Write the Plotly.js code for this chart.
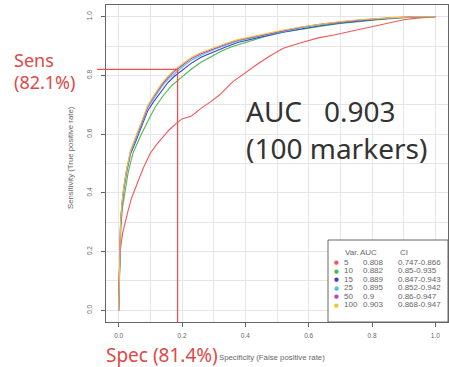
<!DOCTYPE html>
<html><head><meta charset="utf-8">
<script src="https://cdn.plot.ly/plotly-3.0.1.min.js"></script>
<style>body{margin:0;padding:0;background:#fff}#c{width:449px;height:367px}</style>
</head><body><div id="c"></div>
<script>
// ---- data ----
const varNames = ["5", "10", "15", "25", "50", "100"];
const aucValues = ["0.808", "0.882", "0.889", "0.895", "0.9", "0.903"];
const ciValues = ["0.747-0.866", "0.85-0.935", "0.847-0.943", "0.852-0.942", "0.86-0.947", "0.868-0.947"];
const seriesColors = ["#f25858", "#4db84d", "#3e3ec8", "#3fc6e6", "#c23ec2", "#f2c23a"];

const fpr5 = [0, 0, 0.003, 0.006, 0.012, 0.02, 0.03, 0.04, 0.05, 0.065, 0.08, 0.1, 0.12, 0.14, 0.16, 0.18, 0.2, 0.23, 0.26, 0.29, 0.32, 0.36, 0.40, 0.44, 0.48, 0.52, 0.57, 0.63, 0.68, 0.73, 0.78, 0.82, 0.86, 0.9, 0.95, 1.0];
const tpr5 = [0, 0.08, 0.16, 0.21, 0.26, 0.30, 0.34, 0.38, 0.41, 0.45, 0.49, 0.535, 0.565, 0.59, 0.615, 0.635, 0.652, 0.662, 0.688, 0.71, 0.735, 0.778, 0.81, 0.84, 0.868, 0.893, 0.91, 0.928, 0.938, 0.95, 0.96, 0.972, 0.98, 0.99, 0.996, 1.0];

const fpr10 = [0, 0.002, 0.004, 0.007, 0.012, 0.02, 0.03, 0.045, 0.066, 0.09, 0.114, 0.14, 0.167, 0.2, 0.23, 0.26, 0.294, 0.325, 0.357, 0.4, 0.46, 0.52, 0.58, 0.64, 0.7, 0.76, 0.82, 0.88, 0.94, 1.0];
const tpr10 = [0, 0.08, 0.18, 0.28, 0.35, 0.41, 0.47, 0.535, 0.587, 0.64, 0.69, 0.73, 0.765, 0.795, 0.822, 0.845, 0.866, 0.883, 0.898, 0.912, 0.932, 0.947, 0.958, 0.968, 0.977, 0.984, 0.99, 0.995, 0.999, 1.0];

const fprTop = [0, 0.002, 0.004, 0.006, 0.01, 0.016, 0.025, 0.038, 0.05, 0.07, 0.092, 0.11, 0.136, 0.155, 0.177, 0.2, 0.23, 0.26, 0.303, 0.34, 0.376, 0.42, 0.46, 0.52, 0.58, 0.64, 0.7, 0.76, 0.82, 0.88, 0.94, 1.0];
const tpr15 = [0, 0.09, 0.19, 0.29, 0.35, 0.41, 0.47, 0.535, 0.565, 0.62, 0.68, 0.71, 0.75, 0.775, 0.798, 0.818, 0.842, 0.862, 0.882, 0.898, 0.912, 0.924, 0.934, 0.948, 0.96, 0.97, 0.979, 0.986, 0.992, 0.997, 1.0, 1.0];
const tpr25 = [0, 0.1, 0.2, 0.3, 0.355, 0.415, 0.475, 0.54, 0.572, 0.628, 0.69, 0.72, 0.762, 0.786, 0.808, 0.828, 0.852, 0.869, 0.889, 0.904, 0.917, 0.928, 0.937, 0.951, 0.963, 0.973, 0.981, 0.988, 0.993, 0.997, 1.0, 1.0];
const tpr50 = [0, 0.1, 0.2, 0.3, 0.358, 0.418, 0.478, 0.543, 0.577, 0.632, 0.694, 0.726, 0.768, 0.792, 0.815, 0.834, 0.858, 0.874, 0.893, 0.907, 0.92, 0.93, 0.939, 0.953, 0.965, 0.975, 0.983, 0.989, 0.994, 0.998, 1.0, 1.0];
const tpr100 = [0, 0.1, 0.2, 0.3, 0.36, 0.42, 0.48, 0.546, 0.58, 0.635, 0.698, 0.73, 0.773, 0.797, 0.82, 0.838, 0.862, 0.878, 0.896, 0.91, 0.922, 0.932, 0.94, 0.955, 0.966, 0.976, 0.984, 0.99, 0.995, 0.998, 1.0, 1.0];

const cutSpec = 0.186;   // 1 - 0.814
const cutSens = 0.821;
const tickVals = [0, 0.2, 0.4, 0.6, 0.8, 1.0];
const tickText = ["0.0", "0.2", "0.4", "0.6", "0.8", "1.0"];

// ---- layout helpers (pixel -> paper) ----
const L = 106, R = 1, T = 5, B = 45, W = 449, H = 367;
const pw = W - L - R, ph = H - T - B;
const px = v => (v - L) / pw;
const py = v => (H - B - v) / ph;

const xs = [fpr5, fpr10, fprTop, fprTop, fprTop, fprTop];
const ys = [tpr5, tpr10, tpr15, tpr25, tpr50, tpr100];
const traces = ys.map((y, i) => ({
  x: xs[i], y: y, type: "scatter", mode: "lines", name: varNames[i],
  line: {color: seriesColors[i], width: 1.1}, hoverinfo: "skip"
}));

const tf = {family: "Liberation Sans, Arial, sans-serif", size: 6.5, color: "#666"};
const lf = {family: "Liberation Sans, Arial, sans-serif", size: 8, color: "#666"};
const af = {family: "Liberation Sans, Arial, sans-serif", size: 7.8, color: "#666"};
const annotations = [];
const ann = (x, y, text, font, xa, extra) => annotations.push(Object.assign({xref: "paper", yref: "paper", x: px(x), y: py(y), xanchor: xa || "left", yanchor: "middle", showarrow: false, text: text, font: font}, extra || {}));
// Legend text
const rowY = [262, 270.5, 279, 287.5, 296, 304.5];
ann(343, 252, "Var.", lf);
ann(358, 252, "AUC", lf);
ann(398, 252, "CI", lf);
varNames.forEach((v, i) => {
  ann(336, rowY[i], "●", {family: "DejaVu Sans", size: 5.5, color: seriesColors[i]}, "center");
  ann(342, rowY[i], v, lf);
  ann(361, rowY[i], aucValues[i], lf);
  ann(396, rowY[i], ciValues[i], lf);
});
// axis titles
ann(272, 357, "Specificity (False positive rate)", af, "center");
ann(70, 158, "Sensitivity (True positive rate)", af, "center", {textangle: -90});
// big annotations
const big = "Noto Sans, Open Sans, sans-serif";
const red = {family: big, size: 18, color: "#e04848"};
ann(12, 60, "Sens", red);
ann(12, 81.5, "(82.1%)", red);
ann(104, 354.5, "Spec (81.4%)", {family: big, size: 19, color: "#e04848"});
const blk = {family: big, size: 28, color: "#333"};
ann(244, 111, "AUC   0.903", blk);
ann(244, 147.5, "(100 markers)", blk);

const shapes = [
  {type: "line", xref: "paper", yref: "y", x0: px(97), x1: px(119 + cutSpec * 316.5), y0: cutSens, y1: cutSens, line: {color: "#ea5050", width: 1.3}},
  {type: "line", xref: "x", yref: "y", x0: cutSpec, x1: cutSpec, y0: -0.04, y1: cutSens, line: {color: "#ea5050", width: 1.3}},
  {type: "rect", xref: "paper", yref: "paper", layer: "above", x0: px(328), x1: 1, y0: 0, y1: py(240), fillcolor: "#fff", line: {color: "#666", width: 1}}
];

const axisCommon = {
  tickvals: tickVals, ticktext: tickText, ticks: "outside", ticklen: 4, tickwidth: 1, tickcolor: "#666",
  tickfont: tf, showline: true, mirror: true, linecolor: "#666", linewidth: 1,
  showgrid: true, gridcolor: "#e6e6e6", gridwidth: 1, zeroline: false,
  minor: {dtick: 0.1, tick0: 0, showgrid: true, gridcolor: "#e6e6e6", gridwidth: 1, ticks: ""},
  range: [-0.04, 1.04], fixedrange: true
};

const layout = {
  width: W, height: H, margin: {l: L, r: R, t: T, b: B},
  paper_bgcolor: "#fff", plot_bgcolor: "#fff", showlegend: false,
  xaxis: Object.assign({}, axisCommon, {ticklabelstandoff: 3}),
  yaxis: Object.assign({}, axisCommon, {tickangle: -90, ticklabelstandoff: 6}),
  shapes: shapes, annotations: annotations
};

Plotly.newPlot("c", traces, layout, {staticPlot: true, displayModeBar: false});
</script></body></html>
